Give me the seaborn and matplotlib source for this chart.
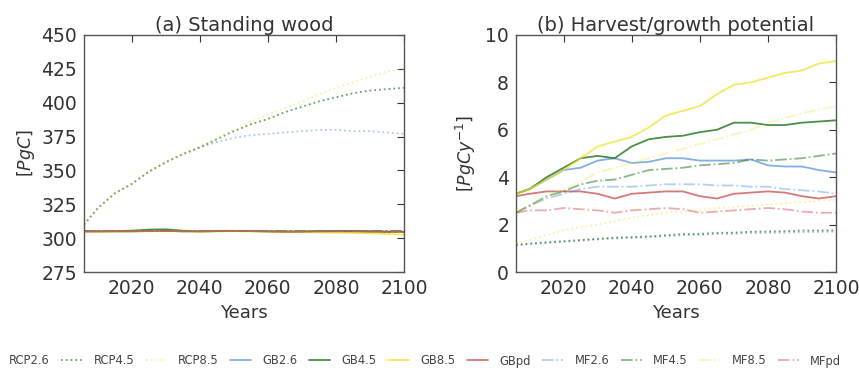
import numpy as np
import pandas as pd
import matplotlib
matplotlib.use("Agg")
import matplotlib.pyplot as plt
import seaborn as sns

years = [2006, 2010, 2015, 2020, 2025, 2030, 2035, 2040, 2045, 2050,
         2055, 2060, 2065, 2070, 2075, 2080, 2085, 2090, 2095, 2100]

# Panel (a) standing wood [PgC]
a_rcp26 = [310, 322, 333, 340, 349, 356, 362, 367, 371, 374, 376, 377, 378, 379, 380, 380, 379, 379, 378, 377]
a_rcp45 = [310, 322, 333, 340, 349, 356, 362, 367, 373, 379, 384, 388, 393, 397, 401, 404, 407, 409, 410, 411]
a_rcp85 = [310, 322, 333, 340, 349, 356, 362, 368, 374, 380, 386, 391, 396, 401, 406, 411, 415, 419, 423, 425]
a_gb26 = [305, 305, 305, 305, 305.3, 305.5, 305, 305, 305.2, 305.3, 305.2, 305, 304.8, 304.8, 305, 305, 305, 304.8, 304.6, 304.5]
a_gb45 = [305, 305, 305.2, 305.5, 306.3, 306.5, 305.5, 305, 305.2, 305.3, 305.2, 305, 304.8, 304.8, 305, 305.2, 305.3, 305, 304.8, 304.7]
a_gb85 = [305, 305, 305, 305, 305.2, 305.4, 305, 305, 305, 305.2, 305, 305, 304.8, 304.6, 304.2, 304, 303.8, 303.5, 303, 302.5]
a_gbpd = [305, 305, 305, 305, 305.2, 305.4, 305, 305, 305.2, 305.3, 305.2, 305, 304.8, 304.8, 305, 305, 305, 304.8, 304.6, 304.5]
a_mf26 = [305, 305, 305, 305, 305, 305, 305, 305, 305, 305, 305, 305, 305, 305, 305, 305, 305, 305, 305, 305]
a_mf45 = [305, 305, 305, 305, 305, 305, 305, 305, 305, 305, 305, 305, 305, 305, 305, 305, 305, 305, 305, 305]
a_mf85 = [305, 305, 305, 305, 305, 305, 305, 305, 305, 305, 305, 305, 305, 305, 305, 305, 305, 304.8, 304.6, 304.4]
a_mfpd = [305, 305, 305, 305, 305, 305, 305, 305, 305, 305, 305, 305, 305, 305, 305, 305, 305, 305, 305, 305]

# Panel (b) harvest/growth potential [PgC/y]
b_rcp26 = [1.12, 1.17, 1.22, 1.27, 1.32, 1.37, 1.41, 1.43, 1.47, 1.51, 1.55, 1.56, 1.6, 1.61, 1.64, 1.65, 1.66, 1.68, 1.69, 1.7]
b_rcp45 = [1.15, 1.2, 1.25, 1.3, 1.35, 1.4, 1.45, 1.47, 1.5, 1.55, 1.6, 1.61, 1.65, 1.66, 1.7, 1.71, 1.72, 1.75, 1.75, 1.76]
b_rcp85 = [1.2, 1.35, 1.55, 1.75, 1.9, 2.0, 2.15, 2.3, 2.4, 2.5, 2.55, 2.6, 2.7, 2.75, 2.8, 2.85, 2.9, 2.95, 3.0, 3.05]
b_gb26 = [3.3, 3.5, 3.9, 4.3, 4.4, 4.7, 4.8, 4.6, 4.65, 4.8, 4.8, 4.7, 4.7, 4.7, 4.75, 4.5, 4.45, 4.45, 4.3, 4.2]
b_gb45 = [3.3, 3.5, 4.0, 4.4, 4.8, 4.9, 4.8, 5.3, 5.6, 5.7, 5.75, 5.9, 6.0, 6.3, 6.3, 6.2, 6.2, 6.3, 6.35, 6.4]
b_gb85 = [3.3, 3.5, 3.9, 4.3, 4.8, 5.3, 5.5, 5.7, 6.1, 6.6, 6.8, 7.0, 7.5, 7.9, 8.0, 8.2, 8.4, 8.5, 8.8, 8.9]
b_gbpd = [3.2, 3.3, 3.4, 3.4, 3.4, 3.3, 3.1, 3.3, 3.35, 3.4, 3.4, 3.2, 3.1, 3.3, 3.35, 3.4, 3.35, 3.2, 3.1, 3.2]
b_mf26 = [2.5, 2.8, 3.1, 3.3, 3.5, 3.6, 3.6, 3.6, 3.65, 3.7, 3.7, 3.7, 3.65, 3.65, 3.6, 3.6, 3.5, 3.45, 3.4, 3.3]
b_mf45 = [2.5, 2.8, 3.2, 3.4, 3.7, 3.85, 3.9, 4.1, 4.3, 4.35, 4.4, 4.5, 4.55, 4.6, 4.75, 4.7, 4.75, 4.8, 4.9, 5.0]
b_mf85 = [2.5, 2.8, 3.2, 3.5, 3.8, 4.2, 4.4, 4.6, 4.8, 5.0, 5.2, 5.4, 5.6, 5.8, 6.0, 6.3, 6.5, 6.7, 6.85, 7.0]
b_mfpd = [2.5, 2.6, 2.6, 2.7, 2.65, 2.6, 2.5, 2.6, 2.65, 2.7, 2.65, 2.5, 2.55, 2.6, 2.65, 2.7, 2.65, 2.55, 2.5, 2.5]

labels = ["RCP2.6", "RCP4.5", "RCP8.5", "GB2.6", "GB4.5", "GB8.5", "GBpd",
          "MF2.6", "MF4.5", "MF8.5", "MFpd"]
series_a = [a_rcp26, a_rcp45, a_rcp85, a_gb26, a_gb45, a_gb85, a_gbpd,
            a_mf26, a_mf45, a_mf85, a_mfpd]
series_b = [b_rcp26, b_rcp45, b_rcp85, b_gb26, b_gb45, b_gb85, b_gbpd,
            b_mf26, b_mf45, b_mf85, b_mfpd]

blue, green, yellow, red = "#5b95dc", "#2a7a2a", "#f0e020", "#cc4a4a"
colors = [blue, green, yellow, blue, green, yellow, red, blue, green, yellow, red]
styles = [":", ":", ":", "-", "-", "-", "-", "-.", "-.", "-.", "-."]
alphas = [0.5, 0.7, 0.4, 0.75, 0.85, 0.7, 0.75, 0.45, 0.55, 0.3, 0.45]

sns.set_style("white")
plt.rcParams["font.family"] = ["DejaVu Sans"]
plt.rcParams["mathtext.fontset"] = "dejavusans"

fig = plt.figure(figsize=(8.59, 3.76), dpi=100)
W, H = 859, 376
ax1 = fig.add_axes([84 / W, (H - 272) / H, 320 / W, 237 / H])
ax2 = fig.add_axes([516 / W, (H - 272) / H, 320 / W, 237 / H])

txt = "#333333"
for ax, series in ((ax1, series_a), (ax2, series_b)):
    for lab, vals, c, ls, al in zip(labels, series, colors, styles, alphas):
        df = pd.DataFrame({"year": years, "value": vals})
        sns.lineplot(data=df, x="year", y="value", ax=ax, color=c,
                     linestyle=ls, alpha=al, linewidth=1.3, label=lab,
                     legend=False)
    ax.set_xlim(2006, 2100)
    ax.set_xticks([2020, 2040, 2060, 2080, 2100])
    ax.set_xlabel("Years", fontsize=13, color=txt, labelpad=4)
    ax.tick_params(direction="in", top=True, right=True, length=5,
                   width=0.8, labelsize=13.5, colors=txt, pad=5)
    for s in ax.spines.values():
        s.set_visible(True)
        s.set_color("#555555")
        s.set_linewidth(1.0)

ax1.set_ylim(275, 450)
ax1.set_yticks(np.arange(275, 451, 25))
ax1.set_ylabel("[$PgC$]", fontsize=12.5, color=txt, labelpad=3)
ax1.set_title("(a) Standing wood", fontsize=14, color=txt, pad=3)

ax2.set_ylim(0, 10)
ax2.set_yticks(np.arange(0, 11, 2))
ax2.set_ylabel("[$PgCy^{-1}$]", fontsize=12.5, color=txt, labelpad=5)
ax2.set_title("(b) Harvest/growth potential", fontsize=14, color=txt, pad=3)

handles, labs = ax1.get_legend_handles_labels()
fig.legend(handles, labs, loc="center", bbox_to_anchor=(0.476, 1 - 361 / H),
           ncol=11, frameon=False, fontsize=8.3, handlelength=1.8,
           handletextpad=1.0, columnspacing=1.0, labelcolor="#444444")

fig.savefig("out.png", dpi=100)
